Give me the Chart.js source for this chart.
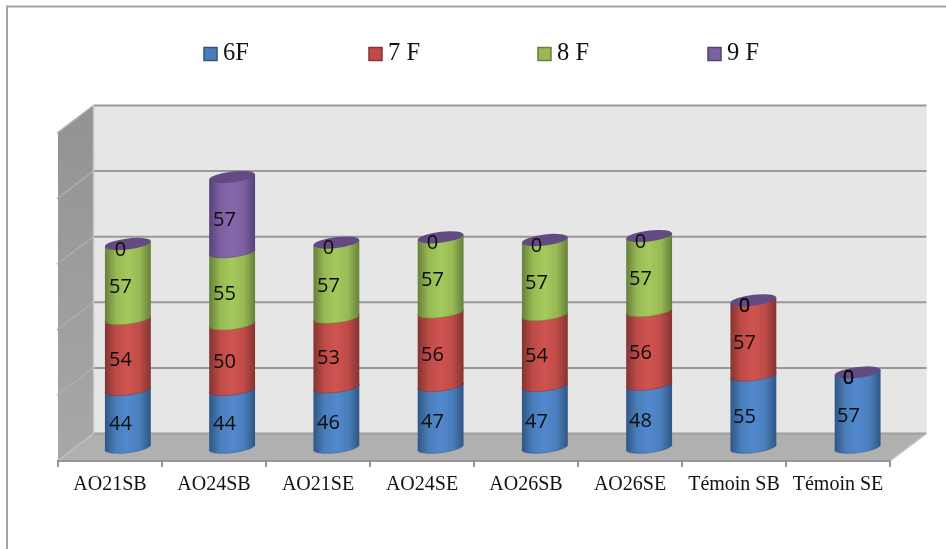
<!DOCTYPE html>
<html>
<head>
<meta charset="utf-8">
<style>
  html, body { margin: 0; padding: 0; background: #fff; }
  canvas { display: block; }
</style>
<script src="https://cdn.jsdelivr.net/npm/chart.js@4"></script>
</head>
<body>
<canvas id="chart" width="946" height="549"></canvas>
<script>
// Stage counts per treatment
const categories = ['AO21SB', 'AO24SB', 'AO21SE', 'AO24SE', 'AO26SB', 'AO26SE', 'Témoin SB', 'Témoin SE'];
const seriesNames = ['6F', '7 F', '8 F', '9 F'];
const values6F = [44, 44, 46, 47, 47, 48, 55, 57];
const values7F = [54, 50, 53, 56, 54, 56, 57, 0];
const values8F = [57, 55, 57, 57, 57, 57, 0, 0];
const values9F = [0, 57, 0, 0, 0, 0, 0, 0];

// Cylinder shading: side edge, body, centre highlight
const edgeColors = ['#2f5684', '#843431', '#66803a', '#56417a'];
const bodyColors = ['#4a7ebb', '#be4b48', '#98b954', '#7d60a0'];
const lightColors = ['#5289cf', '#d05450', '#a4c95c', '#8767ad'];
const capColor = '#644a82';

// Projection of the box behind the front plane
const DEPTH_X = 35.5;
const DEPTH_Y = 27.5;
const MID_PLANE_SCALE = 1.0024;
const CAP_RY = 5.5;
const CAP_SKEW = 0.115;
const LEGEND_X = [204, 369, 538, 708];

function cylinderFill(ctx, el, i) {
  const l = el.x - el.width / 2;
  const g = ctx.createLinearGradient(l, 0, l + el.width, 0);
  g.addColorStop(0, edgeColors[i]);
  g.addColorStop(0.24, bodyColors[i]);
  g.addColorStop(0.5, lightColors[i]);
  g.addColorStop(0.76, bodyColors[i]);
  g.addColorStop(1, edgeColors[i]);
  return g;
}

function withSkew(ctx, cx, draw) {
  ctx.save();
  ctx.transform(1, -CAP_SKEW, 0, 1, 0, CAP_SKEW * cx);
  draw();
  ctx.restore();
}

function drawBody(ctx, el, i) {
  const a = el.width / 2;
  withSkew(ctx, el.x, () => {
    ctx.beginPath();
    ctx.moveTo(el.x - a, el.y);
    ctx.lineTo(el.x - a, el.base);
    ctx.ellipse(el.x, el.base, a, CAP_RY, 0, Math.PI, 0, true);
    ctx.lineTo(el.x + a, el.y);
    ctx.closePath();
    ctx.fillStyle = cylinderFill(ctx, el, i);
    ctx.fill();
    ctx.beginPath();
    ctx.ellipse(el.x, el.base, a, CAP_RY, 0, Math.PI, 0, true);
    ctx.strokeStyle = edgeColors[i];
    ctx.globalAlpha = 0.5;
    ctx.lineWidth = 1;
    ctx.stroke();
  });
}

function drawCap(ctx, el) {
  withSkew(ctx, el.x, () => {
    ctx.beginPath();
    ctx.ellipse(el.x, el.y, el.width / 2, CAP_RY, 0, 0, Math.PI * 2);
    ctx.fillStyle = capColor;
    ctx.fill();
  });
}

const box3d = {
  id: 'box3d',
  // Walls, floor and projected gridlines behind the axis
  beforeDraw(chart) {
    const { ctx, chartArea: a, scales: { y } } = chart;
    const backL = a.left + DEPTH_X, backR = a.right + DEPTH_X + 1;
    const backT = a.top - DEPTH_Y, backB = a.bottom - DEPTH_Y;
    ctx.save();
    ctx.fillStyle = '#fff';
    ctx.fillRect(0, 0, chart.width, chart.height);

    // outer frame
    ctx.strokeStyle = '#a3a3a3';
    ctx.lineWidth = 2;
    ctx.beginPath();
    ctx.moveTo(7, chart.height);
    ctx.lineTo(7, 6.5);
    ctx.lineTo(chart.width, 6.5);
    ctx.stroke();

    ctx.fillStyle = '#e6e6e6';
    ctx.fillRect(backL, backT, backR - backL, backB - backT);

    const side = ctx.createLinearGradient(0, a.top, 0, a.bottom);
    side.addColorStop(0, '#949494');
    side.addColorStop(1, '#a8a8a8');
    ctx.fillStyle = side;
    ctx.beginPath();
    ctx.moveTo(a.left, a.bottom);
    ctx.lineTo(a.left, a.top);
    ctx.lineTo(backL, backT);
    ctx.lineTo(backL, backB);
    ctx.closePath();
    ctx.fill();

    ctx.fillStyle = '#b0b0b0';
    ctx.beginPath();
    ctx.moveTo(a.left, a.bottom);
    ctx.lineTo(a.right, a.bottom);
    ctx.lineTo(backR, backB);
    ctx.lineTo(backL, backB);
    ctx.closePath();
    ctx.fill();

    y.ticks.forEach(t => {
      const py = y.getPixelForValue(t.value);
      ctx.strokeStyle = '#adadad';
      ctx.lineWidth = 1.5;
      ctx.beginPath();
      ctx.moveTo(a.left - 1, py);
      ctx.lineTo(backL, py - DEPTH_Y);
      ctx.stroke();
      ctx.strokeStyle = t.value === 0 ? '#9e9e9e' : '#999999';
      ctx.lineWidth = 2;
      ctx.beginPath();
      ctx.moveTo(backL, py - DEPTH_Y);
      ctx.lineTo(backR, py - DEPTH_Y);
      ctx.stroke();
    });

    ctx.strokeStyle = '#c4c4c4';
    ctx.lineWidth = 1.5;
    ctx.beginPath();
    ctx.moveTo(a.right, a.bottom);
    ctx.lineTo(backR, backB);
    ctx.stroke();
    ctx.beginPath();
    ctx.moveTo(backL, backT);
    ctx.lineTo(backL, backB);
    ctx.lineTo(a.left, a.bottom);
    ctx.stroke();

    // legend row
    ctx.textBaseline = 'middle';
    ctx.textAlign = 'left';
    ctx.font = '24.5px "Liberation Serif"';
    chart.data.datasets.forEach((ds, i) => {
      ctx.fillStyle = ds.backgroundColor;
      ctx.strokeStyle = ds.borderColor;
      ctx.lineWidth = 1.5;
      ctx.fillRect(LEGEND_X[i], 47.5, 13, 13);
      ctx.strokeRect(LEGEND_X[i], 47.5, 13, 13);
      ctx.fillStyle = '#111';
      ctx.fillText(ds.label, LEGEND_X[i] + 19, 54);
    });
    ctx.restore();
  },
  // Stack bottom-up so each segment's lower rim overlaps the one below
  beforeDatasetsDraw(chart) {
    const { ctx, data, chartArea } = chart;
    const count = data.datasets.length;
    ctx.save();
    ctx.translate(chartArea.left + DEPTH_X / 2, -DEPTH_Y / 2);
    ctx.scale(MID_PLANE_SCALE, 1);
    ctx.translate(-chartArea.left, 0);
    for (let i = 0; i < count; i++) {
      chart.getDatasetMeta(i).data.forEach(el => {
        if (Math.abs(el.base - el.y) > 0.01) drawBody(ctx, el, i);
      });
    }
    chart.getDatasetMeta(count - 1).data.forEach(el => drawCap(ctx, el));
    ctx.restore();

    // value labels sit on the front plane, slightly right of the category centre
    ctx.save();
    ctx.fillStyle = '#0c0c0c';
    ctx.font = '20px "Open Sans"';
    ctx.textAlign = 'center';
    ctx.textBaseline = 'middle';
    for (let i = 0; i < count; i++) {
      chart.getDatasetMeta(i).data.forEach((el, j) => {
        ctx.fillText(String(data.datasets[i].data[j]), el.x + 10.5, (el.y + el.base) / 2 - DEPTH_Y / 2 + 6);
      });
    }
    ctx.restore();
    return false;
  }
};

const seriesValues = [values6F, values7F, values8F, values9F];

new Chart(document.getElementById('chart'), {
  type: 'bar',
  data: {
    labels: categories,
    datasets: seriesNames.map((name, i) => ({
      label: name,
      data: seriesValues[i],
      backgroundColor: bodyColors[i],
      borderColor: edgeColors[i],
      barPercentage: 0.44,
      categoryPercentage: 1
    }))
  },
  options: {
    responsive: false,
    animation: false,
    layout: { padding: { top: 133, left: 58, right: 56, bottom: 0 } },
    plugins: { legend: { display: false }, tooltip: { enabled: false } },
    scales: {
      x: {
        stacked: true,
        afterFit: s => { s.height = 88; },
        grid: { drawOnChartArea: false, color: '#959595', lineWidth: 2, tickLength: 6 },
        border: { color: '#959595', width: 2 },
        ticks: {
          padding: 6,
          autoSkip: false,
          maxRotation: 0,
          color: '#111',
          font: { family: '"Liberation Serif"', size: 20 }
        }
      },
      y: {
        stacked: true,
        display: false,
        min: 0,
        max: 250,
        ticks: { stepSize: 50 }
      }
    }
  },
  plugins: [box3d]
});
</script>
</body>
</html>
